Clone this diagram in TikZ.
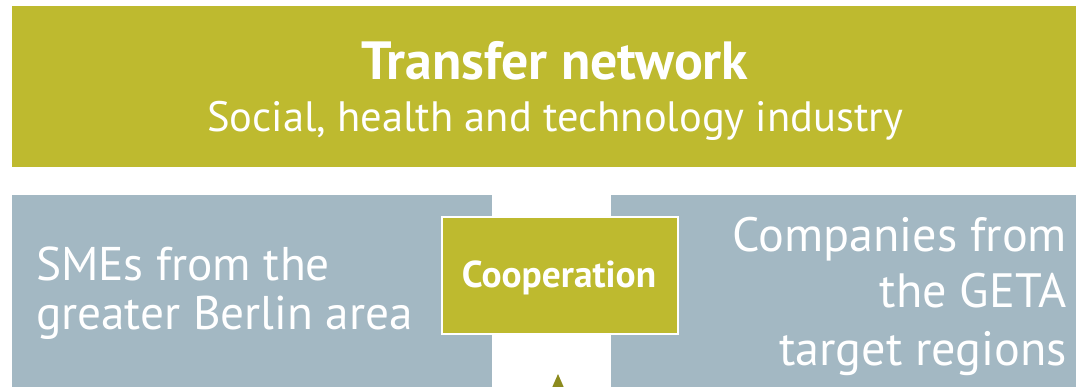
\documentclass[tikz,border=0pt]{standalone}
\usepackage{fontspec}
\setmainfont{PT Sans}
\definecolor{olive}{HTML}{BEBA2F}
\definecolor{slate}{HTML}{A3B8C3}
\definecolor{darkolive}{HTML}{8C8B1E}
\tikzset{
  panel/.style={rectangle, anchor=north west, inner sep=0pt, outer sep=0pt},
  txt/.style={text=white, inner sep=0pt, outer sep=0pt}
}
\begin{document}
\begin{tikzpicture}[x=1pt,y=-1pt]
\useasboundingbox (0,0) rectangle (1076,387);
\begin{scope}
\clip (0,0) rectangle (1076,387);
\node[panel, fill=olive, minimum width=1064pt, minimum height=161pt] (top) at (12,6) {};
\node[panel, fill=slate, minimum width=480pt, minimum height=200pt] (left) at (12,195) {};
\node[panel, fill=slate, minimum width=466pt, minimum height=200pt] (right) at (611,195) {};
\node[panel, fill=olive, draw=white, line width=1.5pt, minimum width=236pt, minimum height=117pt] (coop) at (442,217) {};
\fill[darkolive] (551,390) -- (558,374) -- (565,390) -- cycle;
\end{scope}
\node[txt, anchor=base, font=\fontsize{53.8}{54}\selectfont\bfseries] (title) at (555,80) {Transfer network};
\node[txt, anchor=base, font=\fontsize{42.5}{43}\selectfont] (sub) at (555,132) {Social, health and technology industry};
\node[txt, anchor=base west, font=\fontsize{47.3}{48}\selectfont] (l1) at (36,280) {SMEs from the};
\node[txt, anchor=base west, font=\fontsize{47.3}{48}\selectfont] (l2) at (36,330) {greater Berlin area};
\node[txt, anchor=base east, font=\fontsize{48.2}{49}\selectfont] (r1) at (1067,252) {Companies from};
\node[txt, anchor=base east, font=\fontsize{48.2}{49}\selectfont] (r2) at (1067,308) {the GETA};
\node[txt, anchor=base east, font=\fontsize{48.2}{49}\selectfont] (r3) at (1067,365) {target regions};
\node[txt, anchor=base, font=\fontsize{37.4}{38}\selectfont\bfseries] (ctext) at (559,288) {Cooperation};
\end{tikzpicture}
\end{document}
